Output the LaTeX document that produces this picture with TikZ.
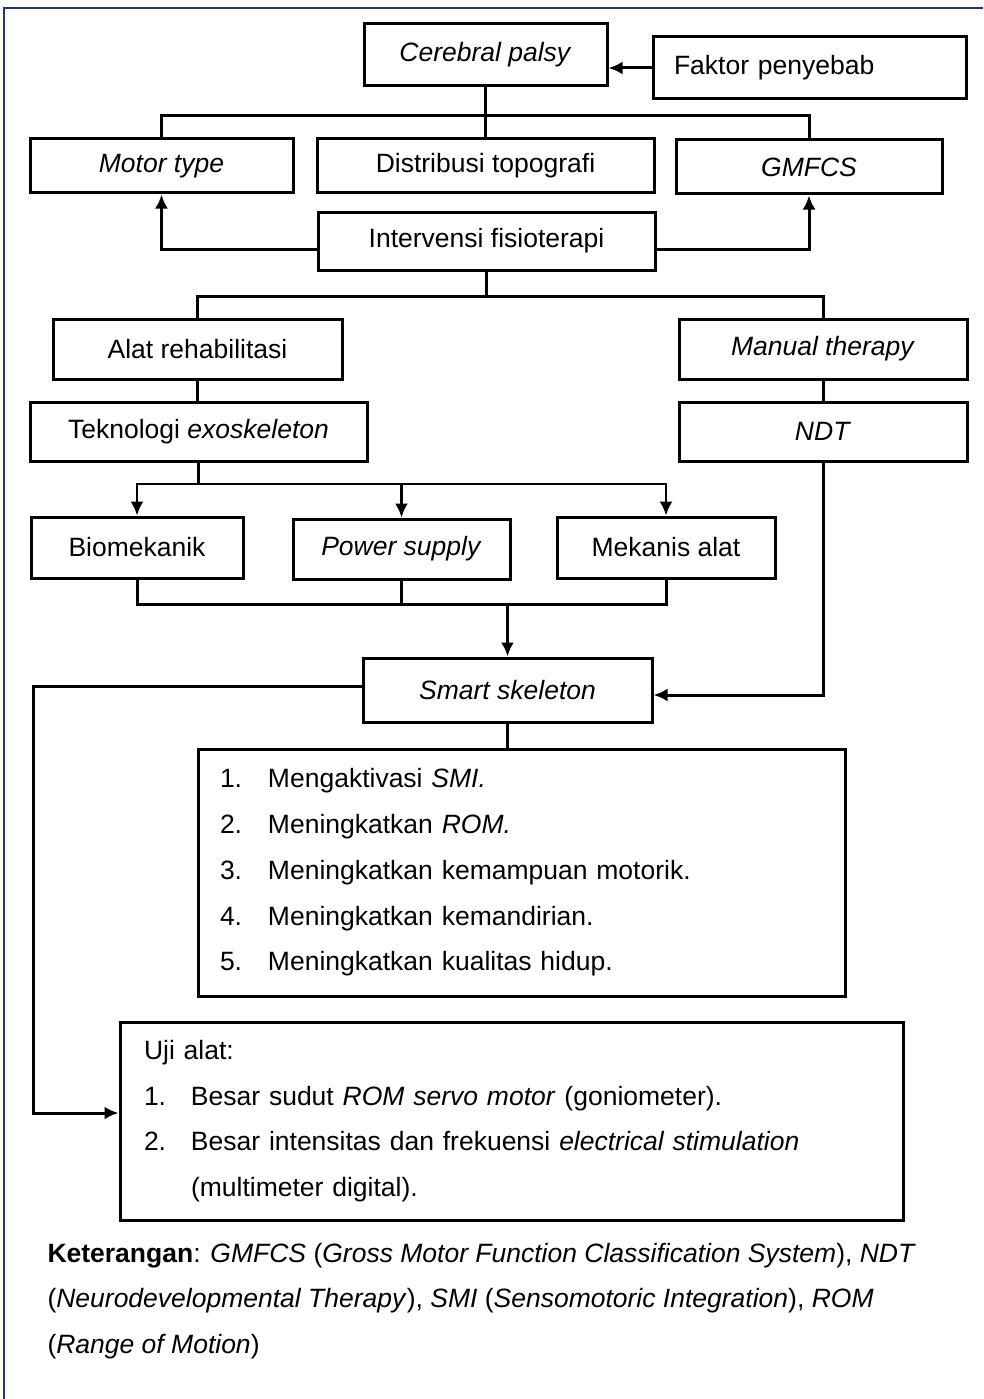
\documentclass[tikz,border=0pt]{standalone}
\usepackage{fontspec}
\setmainfont{Liberation Sans}
\usetikzlibrary{arrows.meta}
\definecolor{bingkai}{HTML}{203864}

\begin{document}
\begin{tikzpicture}[x=1pt, y=-1pt, >={Latex[length=14pt, width=13pt]}, line width=3pt,
    every node/.style={font=\fontsize{26.5pt}{45.7pt}\selectfont},
    box/.style={draw, line width=3pt, inner sep=0pt, minimum height=#1},
    box/.default=60pt]
    \useasboundingbox (0,0) rectangle (983,1399);

    % 1. Bingkai luar (atas dan kiri)
    \draw[bingkai, line width=2.5pt] (4,1399) -- (4,8) -- (983,8);

    % 2. Kotak-kotak utama
    \node[box=62pt, minimum width=243pt] (cp) at (485.5,55) {\textit{Cerebral palsy}};
    \node[box=62pt, text width=271pt, inner xsep=21pt, align=left] (fp) at (809.5,68) {Faktor penyebab};
    \node[box=54pt, minimum width=263pt] (mt) at (161.5,166) {\textit{Motor type}};
    \node[box=54pt, minimum width=337pt] (dt) at (485.5,166) {Distribusi topografi};
    \node[box=54pt, minimum width=266pt] (gm) at (809,167) {\textit{GMFCS}};
    \node[box=58pt, minimum width=337pt] (ifis) at (486.5,241) {Intervensi fisioterapi};
    \node[box, minimum width=289pt] (ar) at (197.5,349) {Alat rehabilitasi};
    \node[box, minimum width=288pt] (mth) at (823,349) {\textit{Manual therapy}};
    \node[box=59pt, minimum width=337pt] (te) at (198.5,431.5) {Teknologi \textit{exoskeleton}};
    \node[box=59pt, minimum width=288pt] (ndt) at (823,431.5) {\textit{NDT}};
    \node[box=61pt, minimum width=212pt] (bio) at (137,547.5) {Biomekanik};
    \node[box, minimum width=217pt] (ps) at (401.5,549) {\textit{Power supply}};
    \node[box=61pt, minimum width=218pt] (mek) at (666,547.5) {Mekanis alat};
    \node[box=64pt, minimum width=289pt] (ss) at (507.5,690) {\textit{Smart skeleton}};

    % 3. Kotak manfaat dan uji alat
    \node[box=247pt, text width=603pt, inner xsep=22pt, align=left] (hasil) at (521.5,872.5) {%
        \makebox[48pt][l]{1.}Mengaktivasi \textit{SMI.}\\
        \makebox[48pt][l]{2.}Meningkatkan \textit{ROM.}\\
        \makebox[48pt][l]{3.}Meningkatkan kemampuan motorik.\\
        \makebox[48pt][l]{4.}Meningkatkan kemandirian.\\
        \makebox[48pt][l]{5.}Meningkatkan kualitas hidup.};
    \node[box=198pt, text width=735pt, inner xsep=24pt, align=left] (uji) at (511.5,1121) {%
        Uji alat:\\
        \makebox[47pt][l]{1.}Besar sudut \textit{ROM servo motor} (goniometer).\\
        \makebox[47pt][l]{2.}Besar intensitas dan frekuensi \textit{electrical stimulation}\\
        \hspace*{47pt}(multimeter digital).};

    % 4. Keterangan
    \node[anchor=west, align=left, inner sep=0pt] (ket) at (46,1301) {%
        \textbf{Keterangan}: \textit{GMFCS} (\textit{Gross Motor Function Classification System}), \textit{NDT}\\
        (\textit{Neurodevelopmental Therapy}), \textit{SMI} (\textit{Sensomotoric Integration}), \textit{ROM}\\
        (\textit{Range of Motion})};

    % 5. Garis penghubung
    \draw[->] (fp.west) -- (fp.west -| cp.east);
    \coordinate (b1) at (485.5,116);
    \draw (cp.south) -- (b1);
    \draw (mt.north) |- (b1) -| (gm.north);
    \draw (b1) -- (dt.north);
    \draw[->] ([yshift=-8pt]ifis.west) -| (mt.south);
    \draw[->] ([yshift=-8pt]ifis.east) -| (gm.south);

    \coordinate (b2) at (488,296);
    \draw (ifis.south) -- (ifis.south |- b2);
    \draw (ar.north) |- (b2) -| (mth.north);
    \draw (ar.south) -- (ar.south |- te.north);
    \draw (mth.south) -- (ndt.north);

    \coordinate (b3) at (198,484);
    \draw (te.south) -- (te.south |- b3);
    \draw[->, line width=2.4pt] (b3) -| (bio.north);
    \draw[->, line width=2.4pt] (b3) -| (mek.north);
    \draw[->, line width=2.4pt] (ps.north |- b3) -- (ps.north);

    \coordinate (b4) at (507.5,604);
    \draw (bio.south) |- (b4) -| (mek.south);
    \draw (ps.south) -- (ps.south |- b4);
    \draw[->] (b4) -- (ss.north);

    \draw[->] (ndt.south) |- ([yshift=-5pt]ss.east);
    \coordinate (kiri) at (33,686);
    \draw[->] ([yshift=4pt]ss.west) -- (kiri) |- ([yshift=8pt]uji.west);
    \draw (ss.south) -- (ss.south |- hasil.north);

\end{tikzpicture}
\end{document}
